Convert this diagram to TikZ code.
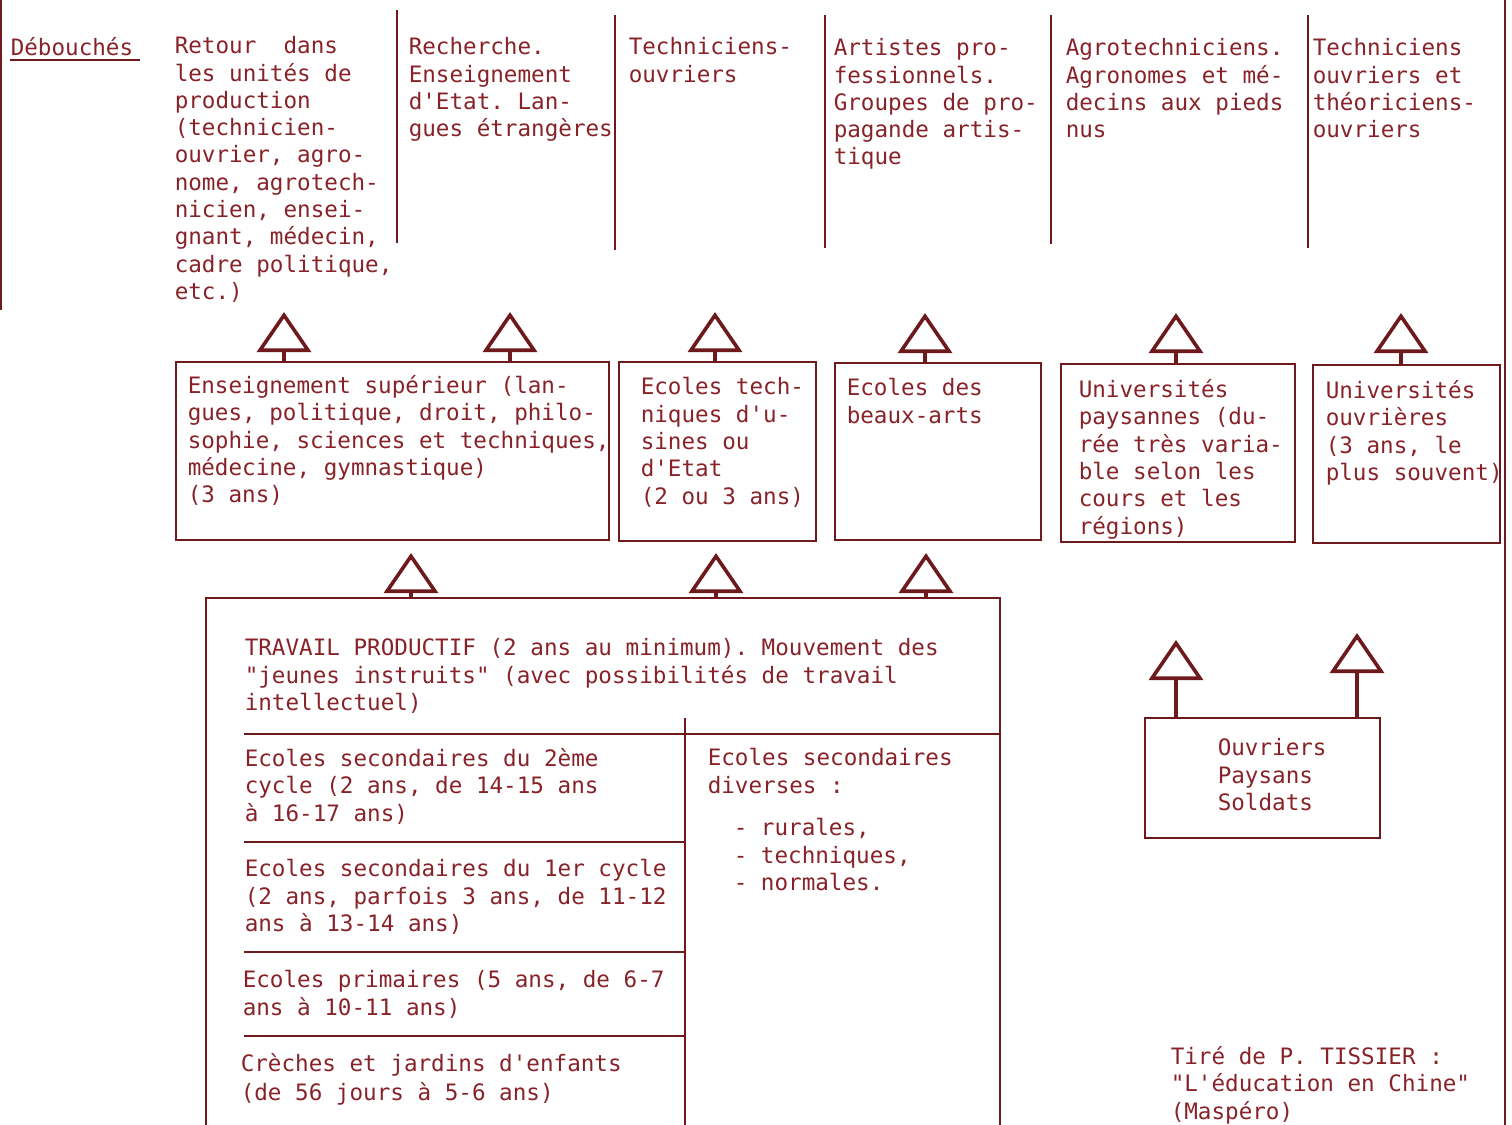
\documentclass[tikz,border=0pt]{standalone}
\usepackage{fontspec}
\usetikzlibrary{arrows.meta,fit}
\newfontfamily\machine{DejaVu Sans Mono}[WordSpace={1,0,0}]
\definecolor{encre}{RGB}{110,25,28}
\definecolor{texte}{RGB}{135,35,40}
\tikzset{every picture/.style={line width=0.75pt}}
\tikzset{
  texte/.style={anchor=north west, yshift=7.6pt, inner sep=0pt, align=left, text=texte,
    font=\machine\fontsize{11.3}{13.65}\selectfont\frenchspacing, execute at begin node=\strut},
  boite/.style={draw=encre, line width=1pt, inner sep=0pt},
  filet/.style={draw=encre, line width=0.8pt},
  fleche/.style={draw=encre, line width=1.8pt, -{Triangle[open, length=20pt, width=27pt]}},
}

\begin{document}
\begin{tikzpicture}[x=0.5pt,y=0.5pt,yscale=-1,xscale=1]
\useasboundingbox (0,0) rectangle (1512,1125);

%Straight Lines: page edges
\draw[filet] (1,0) -- (1,310);
\draw[filet] (1505,0) -- (1505,1125);

% Text Node
\node[texte] (debouches) at (10,51) {Débouchés};
\draw[filet, line width=1pt] (10,60) -- ([xshift=3pt]debouches.east |- 10,60);

% Text Node
\node[texte] (sortie1) at (174,51) {Retour\ \ dans\\les unités de\\production\\(technicien-\\ouvrier, agro-\\nome, agrotech-\\nicien, ensei-\\gnant, médecin,\\cadre politique,\\etc.)};
% Text Node
\node[texte] (sortie2) at (408,52) {Recherche.\\Enseignement\\d'Etat. Lan-\\gues étrangères};
% Text Node
\node[texte] (sortie3) at (628,52) {Techniciens-\\ouvriers};
% Text Node
\node[texte] (sortie4) at (833,53) {Artistes pro-\\fessionnels.\\Groupes de pro-\\pagande artis-\\tique};
% Text Node
\node[texte] (sortie5) at (1065,53) {Agrotechniciens.\\Agronomes et mé-\\decins aux pieds\\nus};
% Text Node
\node[texte] (sortie6) at (1312,53) {Techniciens\\ouvriers et\\théoriciens-\\ouvriers};

%Straight Lines: column rules
\draw[filet] (397,10) -- (397,243);
\draw[filet] (615,15) -- (615,250);
\draw[filet] (825,15) -- (825,248);
\draw[filet] (1051,15) -- (1051,244);
\draw[filet] (1308,15) -- (1308,248);

%Shape: Rectangle
\node[boite, fit={(176,362) (609,540)}] (superieur) {};
\node[boite, fit={(619,362) (816,541)}] (techniques) {};
\node[boite, fit={(835,363) (1041,540)}] (beauxarts) {};
\node[boite, fit={(1061,364) (1295,542)}] (paysannes) {};
\node[boite, fit={(1313,365) (1500,543)}] (ouvrieres) {};

% Text Node
\node[texte] (superieur-txt) at (187,390) {Enseignement supérieur (lan-\\gues, politique, droit, philo-\\sophie, sciences et techniques,\\médecine, gymnastique)\\(3 ans)};
% Text Node
\node[texte] (techniques-txt) at (640,392) {Ecoles tech-\\niques d'u-\\sines ou\\d'Etat\\(2 ou 3 ans)};
% Text Node
\node[texte] (beauxarts-txt) at (846,393) {Ecoles des\\beaux-arts};
% Text Node
\node[texte] (paysannes-txt) at (1078,394) {Universités\\paysannes (du-\\rée très varia-\\ble selon les\\cours et les\\régions)};
% Text Node
\node[texte] (ouvrieres-txt) at (1325,395) {Universités\\ouvrières\\(3 ans, le\\plus souvent)};

%Shape: Rectangle (runs off the page)
\node[boite, fit={(206,598) (1000,1140)}] (travail) {};
\node[boite, fit={(1145,718) (1380,838)}] (peuple) {};

%Straight Lines: inside the big box
\draw[filet, line width=1pt] (244,734) -- (1000,734);
\draw[filet] (685,718) -- (685,1125);
\draw[filet, line width=1pt] (244,842) -- (685,842);
\draw[filet, line width=1pt] (244,952) -- (685,952);
\draw[filet, line width=1pt] (244,1036) -- (685,1036);

% Text Node
\node[texte] (travail-txt) at (244,653) {TRAVAIL PRODUCTIF (2 ans au minimum). Mouvement des\\"jeunes instruits" (avec possibilités de travail\\intellectuel)};
% Text Node
\node[texte] (second2) at (244,763) {Ecoles secondaires du 2ème\\cycle (2 ans, de 14-15 ans\\à 16-17 ans)};
% Text Node
\node[texte] (second1) at (244,874) {Ecoles secondaires du 1er cycle\\(2 ans, parfois 3 ans, de 11-12\\ans à 13-14 ans)};
% Text Node
\node[texte] (primaire) at (242,985) {Ecoles primaires (5 ans, de 6-7\\ans à 10-11 ans)};
% Text Node
\node[texte] (creche) at (240,1068) {Crèches et jardins d'enfants\\[1pt](de 56 jours à 5-6 ans)};
% Text Node
\node[texte] (divers) at (707,763) {Ecoles secondaires\\diverses :};
% Text Node
\node[texte] (divers-liste) at (733,833) {- rurales,\\- techniques,\\- normales.};
% Text Node
\node[texte] (peuple-txt) at (1217,753) {Ouvriers\\Paysans\\Soldats};
% Text Node
\node[texte] (source) at (1170,1061) {Tiré de P. TISSIER :\\"L'éducation en Chine"\\(Maspéro)};

%Straight Lines: open triangles pointing to the outlets
\coordinate (p1) at (284,312);
\coordinate (p2) at (510,312);
\coordinate (p3) at (715,312);
\coordinate (p4) at (925,313);
\coordinate (p5) at (1176,313);
\coordinate (p6) at (1401,313);
\draw[fleche] (p1 |- superieur.north) -- (p1);
\draw[fleche] (p2 |- superieur.north) -- (p2);
\draw[fleche] (p3 |- techniques.north) -- (p3);
\draw[fleche] (p4 |- beauxarts.north) -- (p4);
\draw[fleche] (p5 |- paysannes.north) -- (p5);
\draw[fleche] (p6 |- ouvrieres.north) -- (p6);

\coordinate (q1) at (411,553);
\coordinate (q2) at (716,553);
\coordinate (q3) at (926,553);
\draw[fleche] (q1 |- travail.north) -- (q1);
\draw[fleche] (q2 |- travail.north) -- (q2);
\draw[fleche] (q3 |- travail.north) -- (q3);

\coordinate (r1) at (1176,640);
\coordinate (r2) at (1357,633);
\draw[fleche] (r1 |- peuple.north) -- (r1);
\draw[fleche] (r2 |- peuple.north) -- (r2);

\end{tikzpicture}
\end{document}
